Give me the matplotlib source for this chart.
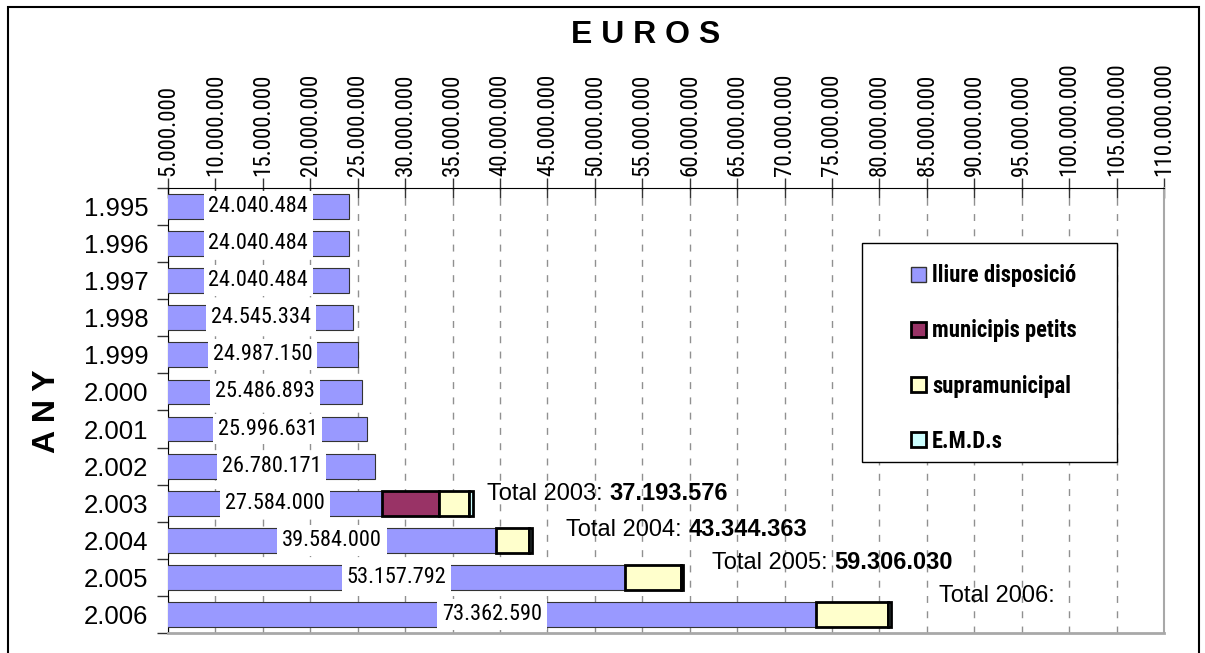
import matplotlib
matplotlib.use('Agg')
import matplotlib.pyplot as plt
from matplotlib import font_manager as fm
from matplotlib.patches import Patch, Rectangle

plt.rcParams['font.family'] = ['Liberation Sans', 'DejaVu Sans']

### data
years = ['1.995', '1.996', '1.997', '1.998', '1.999', '2.000',
         '2.001', '2.002', '2.003', '2.004', '2.005', '2.006']
lliure = [24040484, 24040484, 24040484, 24545334, 24987150, 25486893,
          25996631, 26780171, 27584000, 39584000, 53157792, 73362590]
municipis = [0, 0, 0, 0, 0, 0, 0, 0, 5950000, 0, 0, 0]
supra = [0, 0, 0, 0, 0, 0, 0, 0, 3250000, 3440000, 5900000, 7500000]
emd = [0, 0, 0, 0, 0, 0, 0, 0, 409576, 320363, 248238, 350000]
total_years = ['2003', '2004', '2005', '2006']
total_values = ['37.193.576', '43.344.363', '59.306.030', '']
series_names = ['lliure disposició', 'municipis petits', 'supramunicipal', 'E.M.D.s']
series_colors = ['#9999FF', '#993366', '#FFFFCC', '#CCFFFF']

# text placement for the totals (data coords)
total_x = [38.6e6, 47.0e6, 62.4e6, 86.3e6]
total_y = [7.75, 8.72, 9.61, 10.5]


def fmt(v):
    return f'{int(v):,}'.replace(',', '.')


### look for a narrow / condensed sans font, else shrink the normal one
def narrow_font(size, bold=False):
    wanted = ['Liberation Sans Narrow', 'Arial Narrow', 'Roboto Condensed',
              'Open Sans Condensed', 'Noto Sans Condensed', 'DejaVu Sans Condensed', 'DejaVu Sans']
    for name in wanted:
        for f in fm.fontManager.ttflist:
            if f.name != name:
                continue
            st = str(f.stretch).lower()
            if name == 'DejaVu Sans' and 'condensed' not in st and 'condensed' not in f.fname.lower():
                continue
            if f.style != 'normal':
                continue
            w = f.weight if isinstance(f.weight, int) else fm.weight_dict.get(f.weight, 400)
            if (w >= 600) == bold:
                return fm.FontProperties(fname=f.fname, size=size)
    return fm.FontProperties(family='Liberation Sans', weight='bold' if bold else 'normal',
                             size=size * 0.82)


tick_font = narrow_font(16.5)
label_font = narrow_font(16)
legend_font = narrow_font(16.3, bold=True)

W, H = 1205, 653
fig = plt.figure(figsize=(W / 100, H / 100), dpi=100)
ax = fig.add_axes([168 / W, 1 - 633 / H, (1164 - 168) / W, (633 - 188) / H])

y = list(range(len(years)))
bh = 0.67
ax.barh(y, lliure, height=bh, color=series_colors[0], edgecolor='#333333', lw=0.8, zorder=3)

left = list(lliure)
for vals, col in [(municipis, series_colors[1]), (supra, series_colors[2]), (emd, series_colors[3])]:
    for i, v in enumerate(vals):
        if v > 0:
            ax.barh(i, v, left=left[i], height=bh, color=col, edgecolor='black', lw=2, zorder=3)
            left[i] += v

xmin, xmax = 5e6, 110e6
ax.set_xlim(xmin, xmax)
ax.set_ylim(11.5, -0.5)

# value labels in the middle of the visible part of the bar
for i, v in enumerate(lliure):
    ax.text((xmin + v) / 2, i, fmt(v), ha='center', va='center', fontproperties=label_font,
            zorder=6, clip_on=False,
            bbox=dict(boxstyle='square,pad=0.22', fc='white', ec='none'))

# totals
for i in range(len(total_years)):
    t = ax.text(total_x[i], total_y[i], 'Total ' + total_years[i] + ': ', ha='left', va='center',
                fontsize=17, zorder=6)
    ax.annotate(total_values[i], xy=(1, 0.5), xycoords=t, va='center', ha='left',
                fontsize=17, fontweight='bold', zorder=6)

# axes styling
ax.xaxis.tick_top()
ticks = list(range(5000000, 110000001, 5000000))
ax.set_xticks(ticks)
ax.set_xticklabels([fmt(t) for t in ticks], rotation=90, fontproperties=tick_font)
ax.tick_params(axis='x', direction='inout', length=15, width=1, pad=1, color='#333333')
ax.set_yticks(y)
ax.set_yticklabels(years, fontsize=18.5)
ax.set_yticks([i - 0.5 for i in range(len(years) + 1)], minor=True)
ax.tick_params(axis='y', which='major', length=0, pad=14)
ax.tick_params(axis='y', which='minor', length=8, width=1, direction='out', color='#333333')

ax.set_axisbelow(True)
ax.xaxis.grid(True, linestyle=(0, (5, 6)), color='#909090', lw=1)

ax.spines['top'].set_color('black')
ax.spines['left'].set_color('black')
ax.spines['right'].set_color('#A8A8A8')
ax.spines['bottom'].set_color('#A8A8A8')
ax.spines['right'].set_linewidth(1.5)
ax.spines['bottom'].set_linewidth(2)

# legend with its own box
ax.add_patch(Rectangle((862 / W, 1 - 462 / H), 255 / W, 219 / H, transform=fig.transFigure,
                       fc='white', ec='black', lw=1, zorder=4, clip_on=False))
handles = [Patch(fc=series_colors[0], ec='#333333', lw=1)]
handles += [Patch(fc=c, ec='black', lw=2) for c in series_colors[1:]]
leg = ax.legend(handles, series_names, loc='upper left', bbox_to_anchor=(900 / W, 1 - 253 / H),
                bbox_transform=fig.transFigure, frameon=False, handlelength=0.66, handleheight=0.66,
                handletextpad=0.25, labelspacing=1.42, borderpad=0, prop=legend_font)
leg.set_zorder(5)

# titles
fig.text(646 / W, 1 - 35 / H, 'E U R O S', ha='center', va='center', fontsize=23, fontweight='bold')
fig.text(47 / W, 1 - 411 / H, 'A N Y', ha='center', va='center', fontsize=23, fontweight='bold',
         rotation=90)

# outer frame
fig.add_artist(Rectangle((8 / W, -0.05), (1199 - 8) / W, 1.05 - 7 / H, transform=fig.transFigure,
                         fill=False, ec='black', lw=1.5))

fig.savefig('out.png', dpi=100)
